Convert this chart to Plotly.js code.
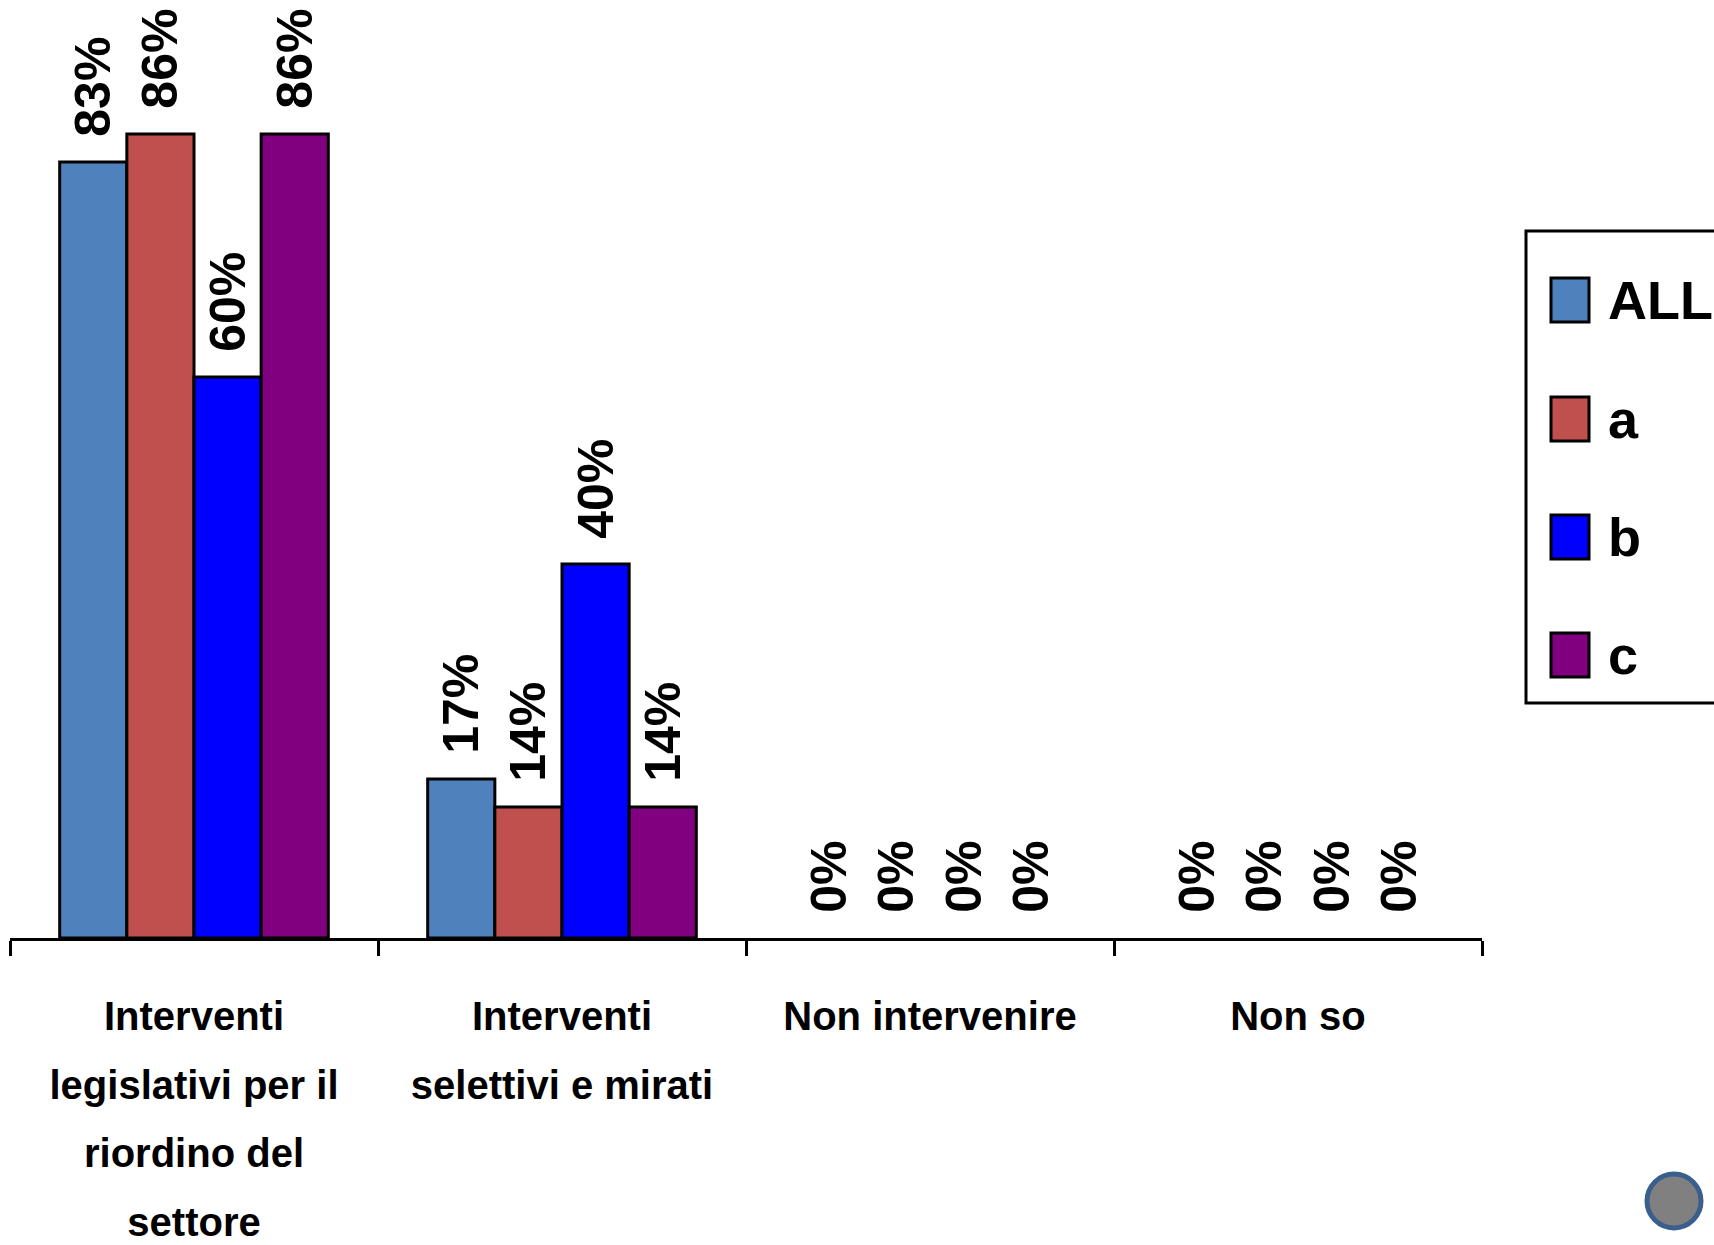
<!DOCTYPE html>
<html>
<head>
<meta charset="utf-8">
<script src="https://cdn.plot.ly/plotly-3.0.1.min.js"></script>
<style>html,body{margin:0;padding:0;background:#fff;}#chart{width:1714px;height:1245px;}</style>
</head>
<body>
<div id="chart"></div>
<script>
// ---- data ----
const categories = [
  'Interventi<br>legislativi per il<br>riordino del<br>settore',
  'Interventi<br>selettivi e mirati',
  'Non intervenire',
  'Non so'
];
const seriesNames = ['ALL', 'a', 'b', 'c'];
const valuesALL = [0.83, 0.17, 0, 0];
const valuesA   = [0.86, 0.14, 0, 0];
const valuesB   = [0.60, 0.40, 0, 0];
const valuesC   = [0.86, 0.14, 0, 0];
const seriesColors = ['#4F81BD', '#C0504D', '#0000FF', '#800080'];

// ---- layout constants ----
const W = 1714, H = 1245;
const M = {l: 10, r: 232, t: 0, b: 307, pad: 0};
const plotW = W - M.l - M.r, plotH = H - M.t - M.b;
const px2x = p => (p - M.l) / plotW;
const px2y = p => (M.t + plotH - p) / plotH;

const seriesValues = [valuesALL, valuesA, valuesB, valuesC];
const mainFont = 'Liberation Sans, Arial, sans-serif';

const traces = seriesNames.map((name, i) => ({
  type: 'bar',
  name: name,
  x: categories,
  y: seriesValues[i],
  marker: {color: seriesColors[i], line: {color: '#000', width: seriesValues[i].map(v => v === 0 ? 0 : 3)}},
  texttemplate: '\u00A0\u2006<b>%{y:.0%}</b>',
  textposition: 'outside',
  textangle: -90,
  constraintext: 'none',
  cliponaxis: false,
  textfont: {family: mainFont, size: 50, color: '#000', weight: 'bold'},
  hoverinfo: 'skip'
}));

// tick text: wider line spacing via larger base size and smaller inner spans
const tickText = categories.map(c => c.split('<br>').map(l => '<span style="font-size:40px">' + l + '</span>').join('<br>'));

// custom legend (large swatches)
const shapes = [];
const annotations = [];
shapes.push({type: 'rect', xref: 'paper', yref: 'paper',
  x0: px2x(1526), x1: px2x(1730), y0: px2y(703), y1: px2y(231),
  line: {color: '#000', width: 3}, fillcolor: 'rgba(0,0,0,0)'});
const legendCenters = [300, 419, 537, 655];
seriesNames.forEach((name, i) => {
  const cy = legendCenters[i];
  shapes.push({type: 'rect', xref: 'paper', yref: 'paper',
    x0: px2x(1551), x1: px2x(1589), y0: px2y(cy + 22), y1: px2y(cy - 22),
    line: {color: '#000', width: 3}, fillcolor: seriesColors[i]});
  annotations.push({xref: 'paper', yref: 'paper', x: px2x(1606), y: px2y(cy),
    xanchor: 'left', yanchor: 'middle', showarrow: false, text: '<b>' + name + '</b>',
    font: {family: mainFont, size: 54, color: '#000', weight: 'bold'}});
});
// page-marker circle bottom right
shapes.push({type: 'circle', xref: 'paper', yref: 'paper',
  x0: px2x(1647), x1: px2x(1701), y0: px2y(1228), y1: px2y(1174),
  line: {color: '#3A5F8F', width: 5}, fillcolor: '#808080'});

const layout = {
  width: W, height: H,
  margin: M,
  paper_bgcolor: '#fff', plot_bgcolor: '#fff',
  showlegend: false,
  barmode: 'group',
  bargap: 0.27,
  bargroupgap: 0,
  xaxis: {
    type: 'category',
    tickmode: 'array', tickvals: categories, ticktext: tickText,
    showline: true, linecolor: '#000', linewidth: 3,
    ticks: 'outside', tickson: 'boundaries', ticklen: 15, tickwidth: 3, tickcolor: '#000',
    tickfont: {family: mainFont, size: 53, color: '#000', weight: 'bold'},
    ticklabelstandoff: 25,
    tickangle: 0,
    showgrid: false, zeroline: false, fixedrange: true
  },
  yaxis: {
    visible: false, range: [0, plotH / 935], showgrid: false, zeroline: false, fixedrange: true
  },
  shapes: shapes,
  annotations: annotations
};

Plotly.newPlot('chart', traces, layout, {displayModeBar: false, staticPlot: true});
</script>
</body>
</html>
